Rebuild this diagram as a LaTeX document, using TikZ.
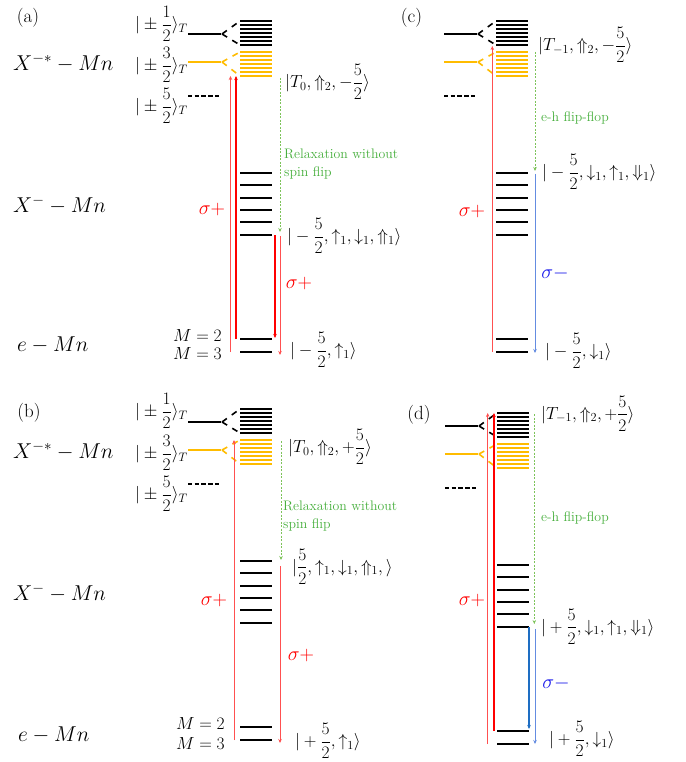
\documentclass[tikz,border=0pt]{standalone}
\usepackage{fix-cm}
\usepackage{amsmath}
\usetikzlibrary{arrows.meta}
\definecolor{orng}{RGB}{255,188,0}
\definecolor{grn}{RGB}{70,175,60}
\definecolor{grnline}{RGB}{125,195,90}
\definecolor{pinkred}{RGB}{255,80,80}
\definecolor{lblue}{RGB}{100,140,225}
\definecolor{dblue}{RGB}{30,110,195}
\definecolor{sigblue}{RGB}{25,25,235}
\tikzset{
  lvl/.style={line width=2pt},
  blk/.style={line width=2pt},
  oblk/.style={line width=2pt, draw=orng},
  fan/.style={line width=1.6pt, dash pattern=on 6pt off 6pt},
  tip/.style={-{Stealth[length=4pt,width=3.5pt]}},
  thinred/.style={tip, pinkred, line width=0.8pt},
  thickred/.style={tip, red, line width=2pt},
  relax/.style={tip, grnline, line width=0.8pt, dash pattern=on 2pt off 1.5pt},
  thinblue/.style={tip, lblue, line width=0.8pt},
  thickblue/.style={tip, dblue, line width=2pt},
  lab/.style={font=\fontsize{17.5}{21}\selectfont, inner sep=0pt},
  big/.style={font=\fontsize{21.5}{25}\selectfont, inner sep=0pt},
  sig/.style={font=\fontsize{20}{24}\selectfont, inner sep=0pt},
  gtxt/.style={font=\fontsize{13.8}{17.5}\selectfont, inner sep=0pt, text=grn, align=left},
  plab/.style={font=\fontsize{19}{22}\selectfont, inner sep=0pt},
}
\newcommand\myscheme{%
  \foreach \i in {0,...,6}{
    \draw[blk] (240,{21+4*\i}) -- (272,{21+4*\i});
    \draw[oblk] (240,{52+4*\i}) -- (272,{52+4*\i});
  }
  \draw[blk] (188,34) -- (220.5,34);
  \draw[fan] (222,34) -- (240,21);
  \draw[fan] (222,34) -- (240,45);
  \draw[oblk] (188,62) -- (220.5,62);
  \draw[fan, orng] (222,62) -- (240,52);
  \draw[fan, orng] (222,62) -- (240,76);
  \draw[blk, dash pattern=on 4.4pt off 2.3pt] (188,96) -- (219,96);
  \foreach \y in {173,185,198,210,222,235}{
    \draw[lvl] (240,\y) -- (272,\y);
  }
  \draw[lvl] (240,339) -- (272,339);
  \draw[lvl] (240,352) -- (272,352);
}
\begin{document}
\begin{tikzpicture}[x=1pt,y=-1pt]
\useasboundingbox[fill=white] (0,0) rectangle (685,762);

% ---------------- panel (a)
\begin{scope}
\myscheme
\node[plab] (pa) at (28,17.5) {(a)};
\node[lab, anchor=east] (a-h1) at (188,24) {$\displaystyle|\pm\frac{1}{2}\rangle_T$};
\node[lab, anchor=east] (a-h3) at (188,65) {$\displaystyle|\pm\frac{3}{2}\rangle_T$};
\node[lab, anchor=east] (a-h5) at (188,106) {$\displaystyle|\pm\frac{5}{2}\rangle_T$};
\node[big, anchor=west] (a-xs) at (13,63) {$X^{-*}-Mn$};
\node[big, anchor=west] (a-xm) at (13,205) {$X^{-}-Mn$};
\node[big, anchor=west] (a-em) at (17,345) {$e-Mn$};
\node[lab, anchor=east] (a-m2) at (222,336) {$M=2$};
\node[lab, anchor=east] (a-m3) at (222,354) {$M=3$};
\node[lab, anchor=west] (a-s1) at (285,82) {$\displaystyle|T_0,\Uparrow_2,-\frac{5}{2}\rangle$};
\node[lab, anchor=west] (a-s2) at (287,236) {$\displaystyle|-\frac{5}{2},\uparrow_1,\downarrow_1,\Uparrow_1\rangle$};
\node[lab, anchor=west] (a-s3) at (290,350) {$\displaystyle|-\frac{5}{2},\uparrow_1\rangle$};
\node[gtxt, anchor=west] (a-g) at (284,164) {Relaxation without\\spin flip};
\node[sig, text=red] (a-sp1) at (212,209) {$\sigma+$};
\node[sig, text=red] (a-sp2) at (299,283) {$\sigma+$};
\coordinate (a-u1s) at (230.5,352); \coordinate (a-u1e) at (230.5,76);
\coordinate (a-u2s) at (236,339);   \coordinate (a-u2e) at (236,76);
\coordinate (a-rs) at (280,78);     \coordinate (a-re) at (280,232);
\coordinate (a-d1s) at (275,235);   \coordinate (a-d1e) at (275,338);
\coordinate (a-d2s) at (280,236);   \coordinate (a-d2e) at (280,355);
\draw[thinred] (a-u1s) -- (a-u1e);
\draw[thickred] (a-u2s) -- (a-u2e);
\draw[relax] (a-rs) -- (a-re);
\draw[thickred] (a-d1s) -- (a-d1e);
\draw[thinred] (a-d2s) -- (a-d2e);
\end{scope}

% ---------------- panel (c)
\begin{scope}[shift={(256,0)}]
\myscheme
\end{scope}
\node[plab] (pc) at (411.5,17.5) {(c)};
\node[lab, anchor=west] (c-s1) at (538,45) {$\displaystyle|T_{-1},\Uparrow_2,-\frac{5}{2}\rangle$};
\node[lab, anchor=west] (c-s2) at (542,172) {$\displaystyle|-\frac{5}{2},\downarrow_1,\uparrow_1,\Downarrow_1\rangle$};
\node[lab, anchor=west] (c-s3) at (545,351) {$\displaystyle|-\frac{5}{2},\downarrow_1\rangle$};
\node[gtxt, anchor=west] (c-g) at (541,118) {e-h flip-flop};
\node[sig, text=red] (c-sp) at (472,212) {$\sigma+$};
\node[sig, text=sigblue] (c-sm) at (555,273) {$\sigma-$};
\coordinate (c-us) at (492.3,352); \coordinate (c-ue) at (492.3,46);
\coordinate (c-rs) at (535,52);    \coordinate (c-re) at (535,171);
\coordinate (c-bs) at (535,174);   \coordinate (c-be) at (535,353);
\draw[thinred] (c-us) -- (c-ue);
\draw[relax] (c-rs) -- (c-re);
\draw[thinblue] (c-bs) -- (c-be);

% ---------------- panel (b)
\begin{scope}[shift={(0,388)}]
\myscheme
\node[lab, anchor=east] (b-h1) at (188,23) {$\displaystyle|\pm\frac{1}{2}\rangle_T$};
\node[lab, anchor=east] (b-h3) at (188,65) {$\displaystyle|\pm\frac{3}{2}\rangle_T$};
\node[lab, anchor=east] (b-h5) at (188,106) {$\displaystyle|\pm\frac{5}{2}\rangle_T$};
\node[big, anchor=west] (b-xs) at (13,63) {$X^{-*}-Mn$};
\node[big, anchor=west] (b-xm) at (13,205) {$X^{-}-Mn$};
\end{scope}
\node[plab] (pb) at (29,413) {(b)};
\node[big, anchor=west] (b-em) at (18,735) {$e-Mn$};
\node[lab, anchor=east] (b-m2) at (225,723.5) {$M=2$};
\node[lab, anchor=east] (b-m3) at (225,744) {$M=3$};
\node[lab, anchor=west] (b-s1) at (288,447) {$\displaystyle|T_0,\Uparrow_2,+\frac{5}{2}\rangle$};
\node[lab, anchor=west] (b-s2) at (292,566.5) {$\displaystyle|\frac{5}{2},\uparrow_1,\downarrow_1,\Uparrow_1,\rangle$};
\node[lab, anchor=west] (b-s3) at (295,741) {$\displaystyle|+\frac{5}{2},\uparrow_1\rangle$};
\node[gtxt, anchor=west] (b-g) at (283,516) {Relaxation without\\spin flip};
\node[sig, text=red] (b-sp1) at (214,600) {$\sigma+$};
\node[sig, text=red] (b-sp2) at (301,655) {$\sigma+$};
\coordinate (b-us) at (234,740);  \coordinate (b-ue) at (234,440);
\coordinate (b-rs) at (281,441);  \coordinate (b-re) at (281,560);
\coordinate (b-ds) at (280,566);  \coordinate (b-de) at (280,743);
\draw[thinred] (b-us) -- (b-ue);
\draw[relax] (b-rs) -- (b-re);
\draw[thinred] (b-ds) -- (b-de);

% ---------------- panel (d)
\begin{scope}[shift={(257,392)}]
\myscheme
\end{scope}
\node[plab] (pd) at (419,415) {(d)};
\node[lab, anchor=west] (d-s1) at (541,413.5) {$\displaystyle|T_{-1},\Uparrow_2,+\frac{5}{2}\rangle$};
\node[lab, anchor=west] (d-s2) at (541,626.5) {$\displaystyle|+\frac{5}{2},\downarrow_1,\uparrow_1,\Downarrow_1\rangle$};
\node[lab, anchor=west] (d-s3) at (549,739) {$\displaystyle|+\frac{5}{2},\downarrow_1\rangle$};
\node[gtxt, anchor=west] (d-g) at (541,518) {e-h flip-flop};
\node[sig, text=red] (d-sp) at (472,600) {$\sigma+$};
\node[sig, text=sigblue] (d-sm) at (556,683) {$\sigma-$};
\coordinate (d-u1s) at (487.7,744); \coordinate (d-u1e) at (487.7,413);
\coordinate (d-u2s) at (494,731);   \coordinate (d-u2e) at (494,413);
\coordinate (d-rs) at (534.3,414);  \coordinate (d-re) at (534.3,624);
\coordinate (d-b1s) at (529,627);   \coordinate (d-b1e) at (529,729);
\coordinate (d-b2s) at (535,629);   \coordinate (d-b2e) at (535,744);
\draw[thinred] (d-u1s) -- (d-u1e);
\draw[thickred] (d-u2s) -- (d-u2e);
\draw[relax] (d-rs) -- (d-re);
\draw[thickblue] (d-b1s) -- (d-b1e);
\draw[thinblue] (d-b2s) -- (d-b2e);
\end{tikzpicture}
\end{document}
